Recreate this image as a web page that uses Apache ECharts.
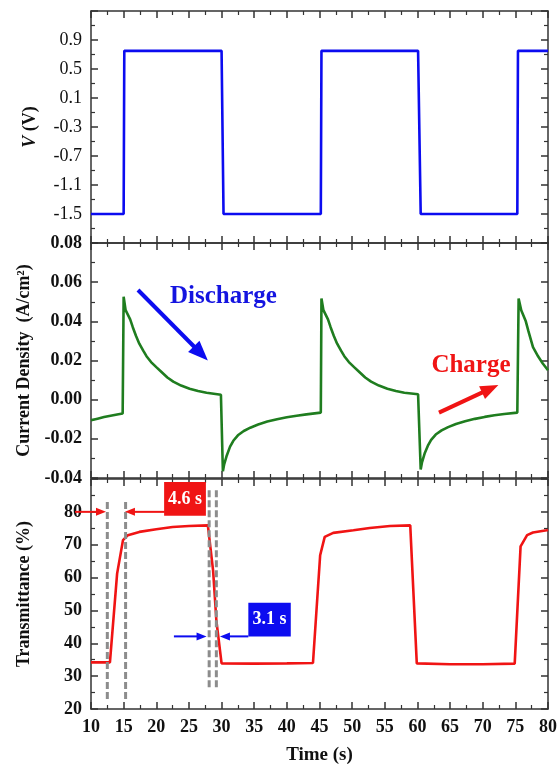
<!DOCTYPE html>
<html><head><meta charset="utf-8">
<script src="https://cdn.jsdelivr.net/npm/echarts@6/dist/echarts.min.js"></script>
<style>html,body{margin:0;padding:0;background:#fff}#c{width:560px;height:769px}</style>
</head><body><div id="c"></div>
<script>
// ---------- data ----------
const timeTicks = [10,15,20,25,30,35,40,45,50,55,60,65,70,75,80];
const voltTicks = [-1.5,-1.1,-0.7,-0.3,0.1,0.5,0.9];
const currTicks = [-0.04,-0.02,0.00,0.02,0.04,0.06,0.08];
const transTicks = [20,30,40,50,60,70,80];

const voltTime  = [10, 15.0, 15.1, 30.0, 30.3, 45.2, 45.3, 60.1, 60.5, 75.3, 75.4, 80];
const voltValue = [-1.5, -1.5, 0.75, 0.75, -1.5, -1.5, 0.75, 0.75, -1.5, -1.5, 0.75, 0.75];

const currTime  = [10, 11, 12, 13, 14, 14.85,
                   15.0, 15.3, 15.6, 16.0, 16.4, 16.9, 17.4, 18.0, 18.5, 19.2, 20, 20.8, 21.7, 22.6, 23.8, 25.1, 26.4, 27.7, 29.9,
                   30.2, 30.4, 30.8, 31.3, 31.8, 32.5, 33.4, 34.4, 35.6, 37, 38.5, 40, 41.5, 43, 45.2,
                   45.3, 45.6, 45.9, 46.3, 46.7, 47.2, 47.7, 48.3, 48.8, 49.5, 50.3, 51.1, 52, 52.9, 54.1, 55.4, 56.7, 58, 60.1,
                   60.5, 60.7, 61.1, 61.6, 62.1, 62.8, 63.7, 64.7, 65.9, 67.3, 68.8, 70.3, 71.8, 73.3, 75.3,
                   75.5, 75.9, 76.2, 76.6, 77.0, 77.7, 78.5, 79.2, 80];
const currValue = [-0.0105, -0.0097, -0.0089, -0.0082, -0.0076, -0.0071,
                   0.0526, 0.0457, 0.0462, 0.0410, 0.0370, 0.0325, 0.0286, 0.0250, 0.0222, 0.0192, 0.0166, 0.0141, 0.0113, 0.0092, 0.0072, 0.0056, 0.0044, 0.0035, 0.0025,
                   -0.0366, -0.0330, -0.0285, -0.0240, -0.0210, -0.0182, -0.0160, -0.0143, -0.0127, -0.0112, -0.0100, -0.0090, -0.0082, -0.0075, -0.0066,
                   0.0517, 0.0457, 0.0460, 0.0410, 0.0370, 0.0325, 0.0286, 0.0250, 0.0222, 0.0192, 0.0166, 0.0141, 0.0113, 0.0092, 0.0072, 0.0056, 0.0044, 0.0035, 0.0028,
                   -0.0357, -0.0320, -0.0275, -0.0235, -0.0205, -0.0178, -0.0157, -0.0140, -0.0124, -0.0110, -0.0098, -0.0088, -0.0080, -0.0073, -0.0066,
                   0.0517, 0.0457, 0.0460, 0.0400, 0.0350, 0.0268, 0.0220, 0.0185, 0.0150];

const transTime  = [10, 12.9, 14.0, 14.9, 15.65, 17.4, 20, 22.5, 25, 27.9, 28.7, 29.2, 30.0,
                    35, 40, 44.0, 45.1, 45.8, 47.1, 50.2, 52.7, 55.8, 58.9, 59.9,
                    65, 70, 74.9, 75.8, 76.8, 77.7, 79.8, 80];
const transValue = [34.2, 34.2, 61.2, 71.4, 72.9, 73.9, 74.7, 75.4, 75.7, 75.9, 62.2, 47.0, 33.9,
                    33.8, 33.9, 34.0, 66.8, 72.4, 73.6, 74.4, 75.1, 75.7, 75.9, 33.9,
                    33.6, 33.6, 33.8, 69.5, 72.9, 73.7, 74.4, 74.5];

// annotations (data units)
const dashedTimes = [12.5, 15.3, 28.1, 29.2];
const dashedLow   = [22.7, 22.7, 26.4, 26.4];
const dashedHigh  = [83.0, 83.0, 86.6, 86.6];

// ---------- helpers ----------
const zip = (a, b) => a.map((v, i) => [v, b[i]]);
const FONT = "'Liberation Serif','Times New Roman',serif";
const AX = '#333';
const inList = (v, list) => list.some(t => Math.abs(t - v) < 1e-6);

function xAx(grid, pos, labels, extra) {
  return Object.assign({
    type: 'value', gridIndex: grid, position: pos, min: 10, max: 80, interval: 5,
    axisLine: {show: true, onZero: false, lineStyle: {color: AX, width: 1.5}},
    axisTick: {show: true, inside: true, length: 7, lineStyle: {color: AX, width: 1.5}},
    minorTick: {show: true, splitNumber: 2, length: 4, lineStyle: {color: AX, width: 1.2}},
    splitLine: {show: false},
    axisLabel: {show: labels, color: '#111', fontFamily: FONT, fontWeight: 'bold', fontSize: 18, margin: 9,
                formatter: v => inList(v, timeTicks) ? String(Math.round(v)) : ''}
  }, extra || {});
}
function yAx(grid, pos, min, max, interval, labels, fmt, bold, extra) {
  return Object.assign({
    type: 'value', gridIndex: grid, position: pos, min: min, max: max, interval: interval,
    axisLine: {show: true, onZero: false, lineStyle: {color: AX, width: 1.5}},
    axisTick: {show: true, inside: true, length: 7, lineStyle: {color: AX, width: 1.5}},
    minorTick: {show: true, splitNumber: 2, length: 4, lineStyle: {color: AX, width: 1.2}},
    splitLine: {show: false},
    axisLabel: {show: labels, color: '#111', fontFamily: FONT, fontWeight: bold ? 'bold' : 'normal', fontSize: 18, margin: 9,
                formatter: fmt}
  }, extra || {});
}
const clean = v => (Math.abs(v) < 1e-9 ? 0 : v);
const fmtV = v => inList(v, voltTicks) ? clean(v).toFixed(1) : '';
const fmtJ = v => inList(v, currTicks) ? clean(v).toFixed(2) : '';
const fmtT = v => inList(v, transTicks) ? String(Math.round(v)) : '';

const nameStyle = {fontFamily: FONT, fontWeight: 'bold', fontSize: 18, color: '#111'};

const option = {
  animation: false,
  backgroundColor: '#fff',
  grid: [
    {left: 91, right: 12, top: 11, height: 232},
    {left: 91, right: 12, top: 243, height: 235},
    {left: 91, right: 12, top: 479, height: 230}
  ],
  xAxis: [
    xAx(0, 'bottom', false), xAx(0, 'top', false),
    xAx(1, 'bottom', false), xAx(1, 'top', false),
    xAx(2, 'bottom', true, {name: 'Time (s)', nameLocation: 'middle', nameGap: 37,
        nameTextStyle: Object.assign({}, nameStyle, {fontSize: 19})}),
    xAx(2, 'top', false)
  ],
  yAxis: [
    yAx(0, 'left', -1.9, 1.3, 0.4, true, fmtV, false, {
        name: '{i|V} (V)', nameLocation: 'middle', nameGap: 52,
        nameTextStyle: Object.assign({}, nameStyle, {rich: {i: {fontFamily: FONT, fontWeight: 'bold', fontStyle: 'italic', fontSize: 18, color: '#111'}}})}),
    yAx(0, 'right', -1.9, 1.3, 0.4, false, fmtV, false),
    yAx(1, 'left', -0.04, 0.08, 0.02, true, fmtJ, true, {
        name: 'Current Density  (A/cm²)', nameLocation: 'middle', nameGap: 58, nameTextStyle: nameStyle}),
    yAx(1, 'right', -0.04, 0.08, 0.02, false, fmtJ, true),
    yAx(2, 'left', 20, 90, 10, true, fmtT, true, {
        name: 'Transmittance (%)', nameLocation: 'middle', nameGap: 58, nameTextStyle: nameStyle}),
    yAx(2, 'right', 20, 90, 10, false, fmtT, true)
  ],
  series: [
    {type: 'line', xAxisIndex: 0, yAxisIndex: 0, data: zip(voltTime, voltValue), showSymbol: false,
     lineStyle: {color: '#0c0cf0', width: 2.6}, itemStyle: {color: '#0c0cf0'}},
    {type: 'line', xAxisIndex: 2, yAxisIndex: 2, data: zip(currTime, currValue), showSymbol: false,
     lineStyle: {color: '#1f7d1f', width: 2.6}, itemStyle: {color: '#1f7d1f'}},
    {type: 'line', xAxisIndex: 4, yAxisIndex: 4, data: zip(transTime, transValue), showSymbol: false,
     lineStyle: {color: '#f01414', width: 2.6}, itemStyle: {color: '#f01414'}}
  ]
};

const chart = echarts.init(document.getElementById('c'));
chart.setOption(option);

const P = (g, t, v) => chart.convertToPixel({gridIndex: g}, [t, v]);
function arrow(a, b, color, lw, hl, hw) {
  const dx = b[0] - a[0], dy = b[1] - a[1], len = Math.hypot(dx, dy), ux = dx / len, uy = dy / len;
  const base = [b[0] - ux * hl, b[1] - uy * hl], nx = -uy, ny = ux;
  return [
    {type: 'line', z: 100, shape: {x1: a[0], y1: a[1], x2: base[0] + ux, y2: base[1] + uy}, style: {stroke: color, lineWidth: lw}},
    {type: 'polygon', z: 100, shape: {points: [b, [base[0] + nx * hw, base[1] + ny * hw], [base[0] - nx * hw, base[1] - ny * hw]]}, style: {fill: color}}
  ];
}
function box(g, t1, v1, t2, v2, color, text) {
  const a = P(g, t1, v1), b = P(g, t2, v2);
  return [
    {type: 'rect', z: 100, shape: {x: a[0], y: a[1], width: b[0] - a[0], height: b[1] - a[1]}, style: {fill: color}},
    {type: 'text', z: 101, style: {x: (a[0] + b[0]) / 2, y: (a[1] + b[1]) / 2, text: text, fill: '#fff',
      font: "bold 18px " + FONT, textAlign: 'center', textVerticalAlign: 'middle'}}
  ];
}
const g = [];
dashedTimes.forEach((t, i) => {
  const a = P(2, t, dashedHigh[i]), b = P(2, t, dashedLow[i]);
  g.push({type: 'line', z: 90, shape: {x1: a[0], y1: a[1], x2: b[0], y2: b[1]},
          style: {stroke: '#8c8c8c', lineWidth: 3, lineDash: [7, 3]}});
});
// middle panel arrows + text
g.push(...arrow(P(1, 17.2, 0.056), P(1, 27.9, 0.020), '#0c0cf0', 4, 20, 8));
g.push(...arrow(P(1, 63.3, -0.0066), P(1, 72.4, 0.0075), '#f01414', 4, 18, 7));
(function () {
  const d = P(1, 22.1, 0.0529), c = P(1, 68.2, 0.0174);
  g.push({type: 'text', z: 100, style: {x: d[0], y: d[1], text: 'Discharge', fill: '#1414e0',
          font: "bold 25px " + FONT, textAlign: 'left', textVerticalAlign: 'middle'}});
  g.push({type: 'text', z: 100, style: {x: c[0], y: c[1], text: 'Charge', fill: '#f01414',
          font: "bold 25px " + FONT, textAlign: 'center', textVerticalAlign: 'middle'}});
})();
// bottom panel arrows + boxes
g.push(...arrow(P(2, 7.55, 80), P(2, 12.3, 80), '#f01414', 2, 10, 4));
g.push(...arrow(P(2, 21.3, 80), P(2, 15.2, 80), '#f01414', 2, 10, 4));
g.push(...box(2, 21.2, 89.1, 27.6, 78.8, '#f01414', '4.6 s'));
g.push(...arrow(P(2, 22.7, 42.1), P(2, 27.7, 42.1), '#0c0cf0', 2, 10, 4));
g.push(...arrow(P(2, 34.1, 42.1), P(2, 29.75, 42.1), '#0c0cf0', 2, 10, 4));
g.push(...box(2, 34.1, 52.3, 40.6, 42.1, '#0c0cf0', '3.1 s'));
chart.setOption({graphic: g});
</script></body></html>
